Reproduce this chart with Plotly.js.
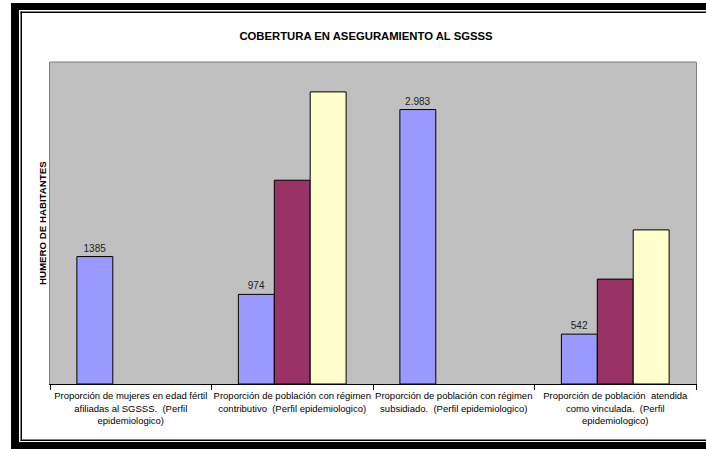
<!DOCTYPE html>
<html>
<head>
<meta charset="utf-8">
<script src="https://cdn.plot.ly/plotly-3.0.1.min.js"></script>
<style>html,body{margin:0;padding:0;background:#fff;}#chart{width:706px;height:449px;}</style>
</head>
<body>
<div id="chart"></div>
<script>
const categories = [
  "Proporción de mujeres en edad fértil<br>afiliadas al SGSSS.  (Perfil<br>epidemiologico)",
  "Proporción de población con régimen<br>contributivo  (Perfil epidemiologico)",
  "Proporción de población con régimen<br>subsidiado.  (Perfil epidemiologico)",
  "Proporción de población  atendida<br>como vinculada.  (Perfil<br>epidemiologico)"
];
const series1 = [1385, 974, 2983, 542];
const series1Labels = ["1385", "974", "2.983", "542"];
const series2 = [null, 2215, null, 1140];
const series3 = [null, 3175, null, 1675];
const colors = ["#9999FF", "#993366", "#FFFFCC"];

const W = 706, H = 449, ML = 50, MR = 10, MT = 62, MB = 65;
const PW = W - ML - MR, PH = H - MT - MB;
const px = v => (v - ML) / PW;
const py = v => (H - MB - v) / PH;

function rect(x0, y0, x1, y1, fill) {
  return {type: 'rect', xref: 'paper', yref: 'paper', x0: px(x0), x1: px(x1), y0: py(y1), y1: py(y0),
          fillcolor: fill, line: {width: 0}, layer: 'above'};
}

const line = {color: '#000000', width: 1};
const traces = [
  {type: 'bar', x: categories, y: series1, text: series1Labels, textposition: 'outside',
   textfont: {size: 10, color: '#222', family: 'Liberation Sans, Arial, sans-serif'},
   cliponaxis: false, marker: {color: colors[0], line: line}, hoverinfo: 'none'},
  {type: 'bar', x: categories, y: series2, marker: {color: colors[1], line: line}, hoverinfo: 'none'},
  {type: 'bar', x: categories, y: series3, marker: {color: colors[2], line: line}, hoverinfo: 'none'}
];

const layout = {
  width: W, height: H,
  margin: {l: ML, r: MR, t: MT, b: MB, pad: 0},
  paper_bgcolor: '#ffffff', plot_bgcolor: '#C0C0C0',
  showlegend: false, barmode: 'group', bargap: 0.333, bargroupgap: 0,
  font: {family: 'Liberation Sans, Arial, sans-serif', color: '#000'},
  title: {text: '<b>COBERTURA EN ASEGURAMIENTO AL SGSSS</b>', font: {size: 11.3, color: '#000'},
          x: px(366), xanchor: 'center', y: 1 - 36 / H, yanchor: 'middle', xref: 'paper'},
  xaxis: {type: 'category', showline: true, linecolor: '#000', linewidth: 1, tickangle: 0,
          ticks: 'outside', ticklen: 5, tickcolor: '#000', tickson: 'boundaries', ticklabelstandoff: 3,
          tickfont: {size: 9.5, color: '#000'}, showgrid: false, zeroline: false, automargin: false},
  yaxis: {range: [0, 3500], showticklabels: false, ticks: '', showgrid: false, zeroline: false,
          showline: true, mirror: true, linecolor: '#808080', linewidth: 1, automargin: false},
  annotations: [
    {text: '<b>HUMERO DE HABITANTES</b>', xref: 'paper', yref: 'paper', x: px(42), y: 0.5,
     xanchor: 'center', yanchor: 'middle', textangle: -90, showarrow: false,
     font: {size: 9.7, color: '#000'}}
  ],
  shapes: [
    {type: 'line', xref: 'paper', yref: 'paper', x0: 0, x1: 1, y0: 1, y1: 1, line: {color: '#808080', width: 1}},
    rect(11, 3, 710, 10, '#000'),
    rect(11, 3, 19, 449, '#000'),
    rect(11, 442, 710, 449, '#000'),
    rect(20.5, 11.5, 22, 441, '#000'),
    rect(20.5, 11.5, 710, 13, '#000'),
    rect(20.5, 439.5, 710, 441, '#000')
  ]
};

Plotly.newPlot('chart', traces, layout, {staticPlot: true, displayModeBar: false});
</script>
</body>
</html>
